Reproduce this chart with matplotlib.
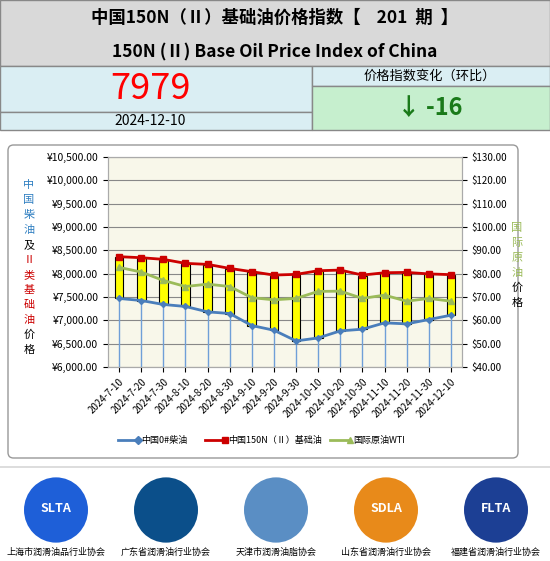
import matplotlib.pyplot as plt
from matplotlib.patches import Rectangle, FancyBboxPatch, Circle
import numpy as np

plt.rcParams['font.family'] = ['Noto Sans CJK SC', 'DejaVu Sans']

# data
dates = ['2024-7-10', '2024-7-20', '2024-7-30', '2024-8-10', '2024-8-20', '2024-8-30',
         '2024-9-10', '2024-9-20', '2024-9-30', '2024-10-10', '2024-10-20', '2024-10-30',
         '2024-11-10', '2024-11-20', '2024-11-30', '2024-12-10']
base_oil = [8364, 8342, 8307, 8221, 8199, 8113, 8042, 7970, 7985, 8063, 8077, 7970,
            8020, 8027, 7995, 7979]
diesel = [7469, 7425, 7340, 7297, 7182, 7146, 6888, 6788, 6559, 6623, 6774, 6810,
          6946, 6924, 7017, 7110]
wti = [82.7, 80.7, 77.1, 74.5, 75.5, 74.5, 69.7, 68.8, 69.4, 72.4, 72.5, 69.4,
       70.8, 68.2, 69.4, 68.2]
index_value = '7979'
change = '↓ -16'
issue_date = '2024-12-10'
assocs = ['上海市润滑油品行业协会', '广东省润滑油行业协会', '天津市润滑油脂协会',
          '山东省润滑油行业协会', '福建省润滑油行业协会']
logo_text = ['SLTA', '', '', 'SDLA', 'FLTA']

fig = plt.figure(figsize=(5.5, 5.61), dpi=100)
W, H = 550, 561


def box(x, y, w, h, fc, ec='#888888', lw=1):
    fig.add_artist(Rectangle((x / W, 1 - (y + h) / H), w / W, h / H, transform=fig.transFigure,
                             facecolor=fc, edgecolor=ec, linewidth=lw))


def txt(x, y, s, **kw):
    fig.text(x / W, 1 - y / H, s, ha='center', va='center', **kw)


# header
box(0, 0, 550, 66, '#d9d9d9')
txt(275, 18, '中国150N（Ⅱ）基础油价格指数【    201  期  】', fontsize=12.5, fontweight='bold')
txt(275, 52, '150N (Ⅱ) Base Oil Price Index of China', fontsize=12.5, fontweight='bold')
box(0, 66, 312, 46, '#daeef3')
box(0, 112, 312, 18, '#daeef3')
box(312, 66, 238, 20, '#daeef3')
box(312, 86, 238, 44, '#c6efce')
txt(150, 89, index_value, fontsize=26, color='red')
txt(150, 121, issue_date, fontsize=10)
txt(430, 76, '价格指数变化（环比）', fontsize=9.5)
txt(430, 108, change, fontsize=17, fontweight='bold', color='#1a7a1a')

# chart panel
fig.add_artist(FancyBboxPatch((8 / W, 1 - 458 / H), 510 / W, 313 / H, transform=fig.transFigure,
                              boxstyle='round,pad=0,rounding_size=0.01', facecolor='white',
                              edgecolor='#999999', linewidth=1, zorder=-5))
fig.add_artist(Rectangle((0, 1 - 468 / H), 1, 2 / H, transform=fig.transFigure,
                         facecolor='#dddddd', edgecolor='none', zorder=-5))

ax = fig.add_axes([108 / W, 1 - 367 / H, 354 / W, 210 / H])
ax.set_facecolor('#f8f7ea')
x = np.arange(len(dates))
ax.vlines(x, 6000, diesel, color='#6f9fd8', linewidth=1)
for i in range(len(x)):
    ax.add_patch(Rectangle((x[i] - 0.2, diesel[i]), 0.4, base_oil[i] - 12 - diesel[i],
                           facecolor='yellow', edgecolor='black', linewidth=0.8, zorder=3))
ax.plot(x, base_oil, color='#cc0000', linewidth=2, marker='s', markersize=5, zorder=4)
ax.plot(x, diesel, color='#4a7ebb', linewidth=2, marker='D', markersize=3, zorder=4)
ax.set_ylim(6000, 10500)
ax.set_xlim(-0.5, len(x) - 0.5)
ax.set_yticks(np.arange(6000, 10501, 500))
ax.set_yticklabels(['¥%s' % format(v, ',.2f') for v in range(6000, 10501, 500)], fontsize=7.5)
ax.yaxis.grid(True, color='#888888', linewidth=0.8)
ax.set_axisbelow(True)
ax.set_xticks(x)
ax.set_xticklabels(dates, rotation=45, ha='right', rotation_mode='anchor', fontsize=7)
for s in ax.spines.values():
    s.set_color('#aaaaaa')

ax2 = ax.twinx()
ax2.plot(x, wti, color='#9bbb59', linewidth=2, marker='^', markersize=5, zorder=5)
ax2.set_ylim(40, 130)
ax2.set_yticks(np.arange(40, 131, 10))
ax2.set_yticklabels(['$%.2f' % v for v in range(40, 131, 10)], fontsize=7)
for s in ax2.spines.values():
    s.set_color('#aaaaaa')

# vertical axis titles
left_chars = [('中', '#2f7fc1'), ('国', '#2f7fc1'), ('柴', '#2f7fc1'), ('油', '#2f7fc1'),
              ('及', 'black'), ('Ⅱ', '#cc0000'), ('类', '#cc0000'), ('基', '#cc0000'),
              ('础', '#cc0000'), ('油', '#cc0000'), ('价', 'black'), ('格', 'black')]
for k, (c, col) in enumerate(left_chars):
    txt(29, 185 + k * 15, c, fontsize=8, color=col)
right_chars = [('国', '#9bbb59'), ('际', '#9bbb59'), ('原', '#9bbb59'), ('油', '#9bbb59'),
               ('价', 'black'), ('格', 'black')]
for k, (c, col) in enumerate(right_chars):
    txt(517, 228 + k * 15, c, fontsize=8, color=col)

# legend
lx = [130, 217, 342]
names = ['中国0#柴油', '中国150N（Ⅱ）基础油', '国际原油WTI']
cols = ['#4a7ebb', '#cc0000', '#9bbb59']
marks = ['D', 's', '^']
for k in range(3):
    fig.add_artist(plt.Line2D([(lx[k] - 12) / W, (lx[k] + 8) / W], [1 - 440 / H] * 2,
                              color=cols[k], linewidth=2, marker=marks[k], markersize=4,
                              markevery=[1], transform=fig.transFigure))
    fig.text((lx[k] + 11) / W, 1 - 440 / H, names[k], fontsize=6.5, va='center')

# association logos
logo_cols = ['#1e5fd8', '#0b4f8a', '#5a8ec4', '#e88a1a', '#1c3f94']
for k in range(5):
    cx = 56 + k * 110
    fig.add_artist(Circle((cx / W, 1 - 510 / H), 32 / W, transform=fig.transFigure,
                          facecolor=logo_cols[k], edgecolor='none'))
    if logo_text[k]:
        txt(cx, 509, logo_text[k], fontsize=9, fontweight='bold', color='white')
    txt(cx, 552, assocs[k], fontsize=6.5)

fig.savefig('out.png', dpi=100)
